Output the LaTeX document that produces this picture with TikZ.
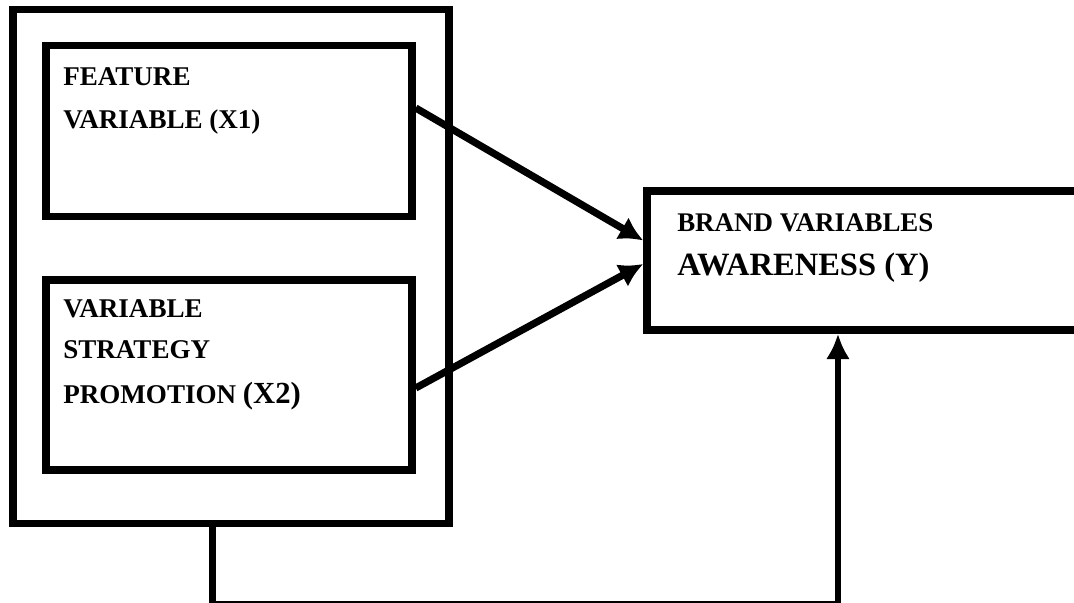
\documentclass[tikz,border=0pt]{standalone}
\usepackage{fontspec}
\setmainfont{Liberation Serif}
\usetikzlibrary{arrows.meta,positioning}
\tikzset{
  boxframe/.style={draw=black, line width=5.6pt, fill=none, inner sep=0pt, rectangle},
  lbl/.style={anchor=base west, inner sep=0pt, font=\bfseries\fontsize{20.3}{22}\selectfont},
  arrowline/.style={draw=black, line width=5.4pt, -{Latex[length=18pt,width=19pt]}},
  loopline/.style={draw=black, line width=5.2pt, -{Latex[length=19pt,width=18pt]}}
}
\begin{document}
\begin{tikzpicture}[x=0.75pt,y=-0.75pt]
\useasboundingbox (0,0) rectangle (1074,603);
% boxes
\node[boxframe, minimum width={436*0.75pt}, minimum height={514*0.75pt}] (outer) at (231,266.5) {};
\node[boxframe, minimum width={366*0.75pt}, minimum height={171.5*0.75pt}] (x1) at (229,131) {};
\node[boxframe, minimum width={366*0.75pt}, minimum height={190*0.75pt}] (x2) at (229,375) {};
\node[boxframe, minimum width={443*0.75pt}, minimum height={139*0.75pt}] (y) at (868.5,260.5) {};
% texts
\node[lbl] (t1a) at (63,85) {FEATURE};
\node[lbl] (t1b) at (63,128) {VARIABLE (X1)};
\node[lbl] (t2a) at (63,317) {VARIABLE};
\node[lbl] (t2b) at (63,358) {STRATEGY};
\node[lbl] (t2c) at (63,403) {PROMOTION {\fontsize{23}{24}\selectfont (X2)}};
\node[lbl, font=\bfseries\fontsize{20.2}{22}\selectfont] (ya) at (677,231) {BRAND VARIABLES};
\node[lbl, font=\bfseries\fontsize{24.4}{26}\selectfont] (yb) at (677,275) {AWARENESS (Y)};
% connectors
\draw[arrowline] ([yshift=17.25pt]x1.east) -- ([yshift=15pt]y.west);
\draw[arrowline] ([yshift=-9.75pt]x2.east) -- ([yshift=-2.6pt]y.west);
\coordinate (lstart) at ([xshift=-13.9pt]outer.south);
\draw[loopline] (lstart) -- ++(0,77) -| ([xshift=-22.9pt]y.south);
\end{tikzpicture}
\end{document}
